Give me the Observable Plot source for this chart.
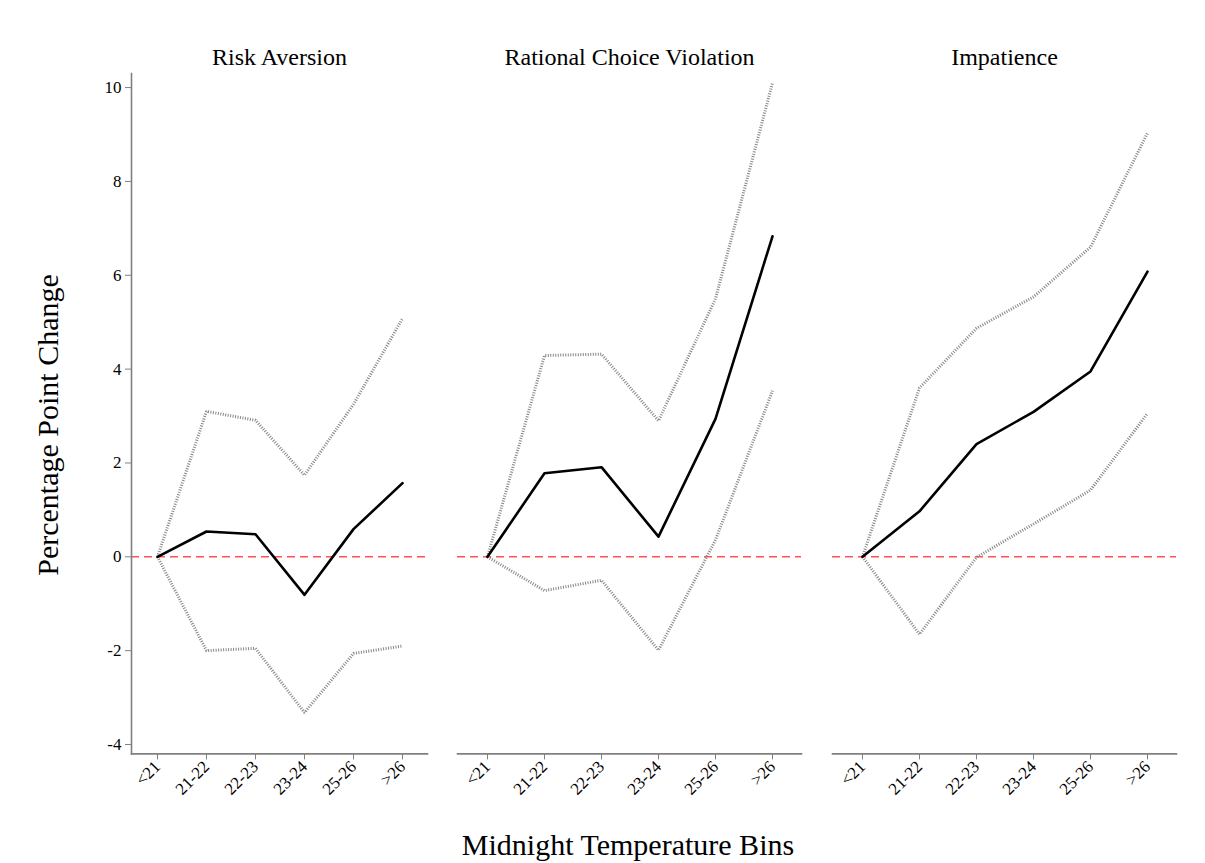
<!DOCTYPE html>
<html>
<head>
<meta charset="utf-8">
<script src="https://cdn.jsdelivr.net/npm/d3@7"></script>
<script src="https://cdn.jsdelivr.net/npm/@observablehq/plot@0.6"></script>
<style>
  html, body { margin: 0; padding: 0; background: #fff; }
  #wrap { position: relative; width: 1205px; height: 863px; background: #fff; overflow: hidden; font-family: "Liberation Serif", "DejaVu Serif", serif; }
  .panel { position: absolute; top: 0; }
  .ytitle { position: absolute; left: 48px; top: 425px; transform: translate(-50%, -50%) rotate(-90deg); font-size: 30px; white-space: nowrap; color: #000; }
  .xtitle { position: absolute; left: 628px; top: 845px; transform: translate(-50%, -50%); font-size: 30px; white-space: nowrap; color: #000; }
</style>
</head>
<body>
<div id="wrap">
  <div class="ytitle">Percentage Point Change</div>
  <div class="xtitle">Midnight Temperature Bins</div>
</div>
<script>
const bins = ["<21", "21-22", "22-23", "23-24", "25-26", ">26"];
const panelTitles = ["Risk Aversion", "Rational Choice Violation", "Impatience"];
const yTicks = [-4, -2, 0, 2, 4, 6, 8, 10];

const riskMean  = [0, 0.54, 0.48, -0.81, 0.59, 1.57];
const riskUpper = [0, 3.10, 2.91, 1.74, 3.25, 5.08];
const riskLower = [0, -2.00, -1.95, -3.32, -2.06, -1.90];

const rcvMean  = [0, 1.78, 1.91, 0.43, 2.94, 6.83];
const rcvUpper = [0, 4.29, 4.32, 2.90, 5.50, 10.10];
const rcvLower = [0, -0.72, -0.50, -1.99, 0.36, 3.54];

const impMean  = [0, 0.97, 2.40, 3.09, 3.95, 6.08];
const impUpper = [0, 3.60, 4.87, 5.54, 6.60, 9.03];
const impLower = [0, -1.65, -0.01, 0.70, 1.42, 3.06];

const series = [
  [riskMean, riskUpper, riskLower],
  [rcvMean, rcvUpper, rcvLower],
  [impMean, impUpper, impLower]
];

// layout of each panel svg: left, width, marginLeft, marginRight
const layout = [
  {left: 0,   width: 440, ml: 131, mr: 13},
  {left: 440, width: 375, ml: 17,  mr: 14},
  {left: 815, width: 390, ml: 17,  mr: 29}
];

const H = 810, MT = 73, MB = 810 - 753.4;
const grey = "#808080";
const ciStyle = {stroke: "#858585", strokeWidth: 3, strokeDasharray: "1,1.5", strokeLinecap: "butt", strokeLinejoin: "miter"};

const wrap = document.getElementById("wrap");

panelTitles.forEach((title, p) => {
  const [m, hi, lo] = series[p];
  const rows = bins.map((b, i) => ({bin: b, mean: m[i], hi: hi[i], lo: lo[i]}));
  const L = layout[p];
  const marks = [
    Plot.ruleY([0], {stroke: "#ff5252", strokeWidth: 1.6, strokeDasharray: "8,5"}),
    Plot.line(rows, {x: "bin", y: "hi", ...ciStyle}),
    Plot.line(rows, {x: "bin", y: "lo", ...ciStyle}),
    Plot.line(rows, {x: "bin", y: "mean", stroke: "#000", strokeWidth: 2.6}),
    Plot.frame({anchor: "bottom", stroke: grey, strokeWidth: 1.6}),
    Plot.axisX({tickRotate: -45, tickSize: 6, tickPadding: 4, stroke: grey, fill: "#000", fontSize: 17, label: null}),
    Plot.text([title], {frameAnchor: "top", text: d => d, dy: -9, lineAnchor: "bottom", fontSize: 24, fill: "#000"})
  ];
  if (p === 0) {
    marks.push(Plot.frame({anchor: "left", stroke: grey, strokeWidth: 1.6}));
    marks.push(Plot.axisY({ticks: yTicks, tickFormat: d => String(d), tickSize: 6, tickPadding: 4, stroke: grey, fill: "#000", fontSize: 17, label: null}));
  }
  const chart = Plot.plot({
    width: L.width,
    height: H,
    marginTop: MT,
    marginBottom: MB,
    marginLeft: L.ml,
    marginRight: L.mr,
    style: {fontFamily: "Liberation Serif, serif", fontSize: "17px", background: "transparent", overflow: "visible"},
    x: {type: "point", domain: bins, padding: 0.5},
    y: {domain: [-4.2, 10.3], axis: p === 0 ? undefined : null},
    marks
  });
  chart.classList.add("panel");
  chart.style.left = L.left + "px";
  wrap.appendChild(chart);
});
</script>
</body>
</html>
